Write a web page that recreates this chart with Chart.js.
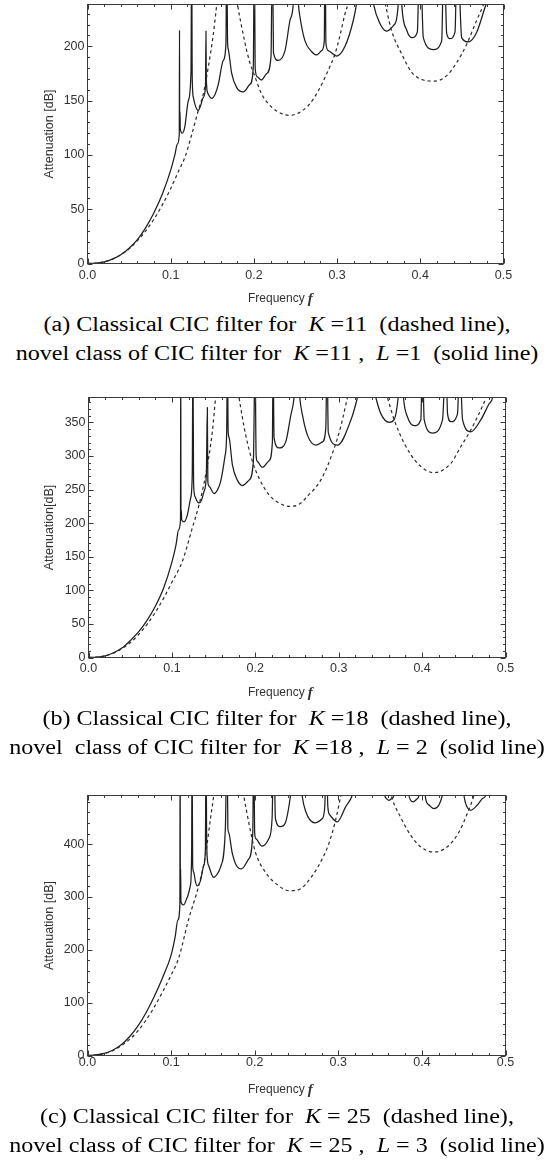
<!DOCTYPE html>
<html><head><meta charset="utf-8">
<script src="https://cdn.jsdelivr.net/npm/chart.js@4.4.1/dist/chart.umd.min.js"></script>
<style>
html,body{margin:0;padding:0;background:#fff}
body{width:547px;height:1166px;position:relative;overflow:hidden}
.box{position:absolute;left:0;width:547px}
.cap{position:absolute;left:0;width:554px;text-align:center;font-family:"Liberation Serif","Times New Roman",serif;font-size:20.5px;line-height:29.3px;color:#000;white-space:pre;transform:scaleX(1.175);transform-origin:277px 0}
.cap i{font-style:italic}
</style></head><body>
<div class="box" style="top:0;height:310px"><canvas id="cA"></canvas></div>
<div class="box" style="top:380px;height:330px"><canvas id="cB"></canvas></div>
<div class="box" style="top:775px;height:330px"><canvas id="cC"></canvas></div>
<div class="cap" style="top:310.1px">(a) Classical CIC filter for  <i>K</i> =11  (dashed line),
novel class of CIC filter for  <i>K</i> =11 ,  <i>L</i> =1  (solid line)</div>
<div class="cap" style="top:704.1px">(b) Classical CIC filter for  <i>K</i> =18  (dashed line),
novel  class of CIC filter for  <i>K</i> =18 ,  <i>L</i> = 2  (solid line)</div>
<div class="cap" style="top:1101.8px">(c) Classical CIC filter for  <i>K</i> = 25  (dashed line),
novel class of CIC filter for  <i>K</i> = 25 ,  <i>L</i> = 3  (solid line)</div>
<script>
// ---------- data (frequency, attenuation dB) ----------
const xTicks = [0, 0.1, 0.2, 0.3, 0.4, 0.5];
const xTickLabels = ['0.0', '0.1', '0.2', '0.3', '0.4', '0.5'];
const yTicksA = [0, 50, 100, 150, 200];
const yTicksB = [0, 50, 100, 150, 200, 250, 300, 350];
const yTicksC = [0, 100, 200, 300, 400];

const dashedA = [[0,0],[0.01,0.3],[0.02,1.5],[0.03,4],[0.04,8],[0.05,13.5],[0.06,21],[0.07,30],[0.08,41],[0.09,54],[0.1,69],[0.11,86],[0.1172,98],[0.125,118],[0.1332,141],[0.1392,156],[0.1452,181],[0.1512,211],[0.1553,238],[0.16,270],[0.1667,320],[0.175,270],[0.1805,238],[0.1853,218],[0.1933,190],[0.2013,172],[0.2093,156],[0.2214,144],[0.2334,138],[0.2434,136.5],[0.2534,138.5],[0.2654,145.5],[0.2774,159],[0.2894,178],[0.2975,193],[0.3035,210],[0.3095,230],[0.3135,240],[0.3333,320],[0.3576,240],[0.3656,214],[0.3776,193],[0.3897,176],[0.4036,169],[0.4177,168],[0.4317,173],[0.4437,185],[0.4558,202],[0.4678,224],[0.4757,238],[0.49,270],[0.5,300]];

const solidA = [[0,0],[0.01,0.3],[0.02,1.5],[0.03,4],[0.04,8],[0.05,14],[0.06,22],[0.07,33],[0.08,47],[0.09,64],[0.1,86],[0.105,100],[0.108,110],[0.1103,119],[0.1106,215],[0.1108,124],[0.1112,140],[0.1115,124],[0.114,120],[0.117,126],[0.1212,150],[0.1244,177],[0.1252,300],[0.1258,175],[0.1272,153],[0.1302,144],[0.1332,141],[0.1362,146],[0.1392,153],[0.1418,163],[0.1424,214],[0.1428,170],[0.1445,157],[0.1493,152],[0.1535,156],[0.1572,165],[0.1632,187],[0.1664,202],[0.1673,300],[0.1683,205],[0.1693,197],[0.1733,175],[0.1793,162],[0.1873,158],[0.1953,165],[0.1993,181],[0.2005,300],[0.2015,180],[0.204,172],[0.209,169],[0.2154,175],[0.2206,191],[0.2222,300],[0.2235,194],[0.2294,187],[0.2374,196],[0.2434,224],[0.2474,240],[0.25,300],[0.2534,240],[0.2554,227],[0.2614,205],[0.2695,195],[0.2755,192],[0.2815,196],[0.2846,205],[0.2855,300],[0.2865,203],[0.2894,196],[0.2995,191],[0.3095,200],[0.3195,224],[0.3235,240],[0.3333,300],[0.3435,240],[0.3515,221],[0.3596,214],[0.3676,219],[0.3736,240],[0.375,300],[0.3776,240],[0.3836,215],[0.3897,208],[0.3964,213],[0.3996,300],[0.4036,208],[0.4156,197],[0.4257,205],[0.4285,300],[0.4317,212],[0.4357,207],[0.4417,213],[0.4445,300],[0.4497,208],[0.4577,204],[0.4678,213],[0.4778,236],[0.4795,240],[0.49,300],[0.5,300]];

const dashedB = [[0,0],[0.01,0.5],[0.02,2.5],[0.03,6.5],[0.04,13],[0.05,22],[0.06,34],[0.07,49],[0.08,67],[0.09,88],[0.1,112],[0.1125,143],[0.1245,193],[0.1325,227],[0.1405,272],[0.1485,336],[0.1525,387],[0.1667,500],[0.1805,387],[0.1885,331],[0.1965,292],[0.2045,267],[0.2165,242],[0.2285,230],[0.2405,225],[0.2525,228],[0.2625,240],[0.2785,264],[0.2925,304],[0.3025,344],[0.3105,387],[0.3333,500],[0.3585,387],[0.3665,354],[0.3785,319],[0.3945,289],[0.4145,275],[0.4345,289],[0.4465,314],[0.4585,339],[0.4705,369],[0.4765,387],[0.5,500]];

const solidB = [[0,0],[0.01,0.5],[0.02,2.5],[0.03,7],[0.04,14],[0.05,25],[0.06,38],[0.07,55],[0.08,76],[0.09,103],[0.1,142],[0.105,168],[0.108,190],[0.1103,205],[0.1106,450],[0.1109,207],[0.1113,219],[0.1117,205],[0.1145,202],[0.1185,212],[0.1224,237],[0.1244,272],[0.1252,450],[0.126,260],[0.1276,240],[0.13,233],[0.1325,230],[0.1355,234],[0.1385,247],[0.1413,272],[0.1425,372],[0.1431,262],[0.1445,255],[0.1505,244],[0.1545,249],[0.1585,262],[0.1637,300],[0.1657,336],[0.1665,450],[0.1675,335],[0.1685,328],[0.1725,287],[0.1785,264],[0.1845,256],[0.1925,264],[0.1977,292],[0.1997,450],[0.201,300],[0.2025,292],[0.2085,283],[0.2165,293],[0.2205,321],[0.2213,450],[0.2225,327],[0.2285,312],[0.2365,321],[0.2425,360],[0.2465,387],[0.25,450],[0.2533,387],[0.2565,361],[0.2625,331],[0.2725,316],[0.2805,321],[0.2845,341],[0.286,450],[0.2875,335],[0.2985,316],[0.3145,353],[0.3225,387],[0.3333,450],[0.3445,387],[0.3505,363],[0.3605,350],[0.3665,354],[0.3713,387],[0.375,450],[0.3777,387],[0.3825,358],[0.3905,345],[0.3985,354],[0.4003,450],[0.4025,354],[0.4125,334],[0.4245,354],[0.4285,450],[0.4305,363],[0.4345,351],[0.4425,363],[0.445,450],[0.4485,354],[0.4585,336],[0.4705,354],[0.4805,378],[0.4845,387],[0.49,450],[0.5,450]];

const dashedC = [[0,0],[0.01,1],[0.02,3.5],[0.03,9],[0.04,18],[0.05,30],[0.06,46],[0.07,67],[0.08,92],[0.09,121],[0.1,152],[0.109,184],[0.121,258],[0.133,321],[0.141,378],[0.147,447],[0.151,492],[0.1667,700],[0.1869,492],[0.1929,441],[0.2008,385],[0.2128,347],[0.2288,321],[0.2408,312],[0.2528,314],[0.2688,340],[0.2807,372],[0.2887,401],[0.2967,445],[0.3027,489],[0.3333,700],[0.3645,486],[0.3745,451],[0.3865,417],[0.3984,395],[0.4144,385],[0.4304,395],[0.4444,423],[0.4543,458],[0.4623,492],[0.5,700]];

const solidC = [[0,0],[0.01,1],[0.02,4],[0.03,10],[0.04,20],[0.05,35],[0.06,55],[0.07,81],[0.08,112],[0.09,148],[0.1,190],[0.105,226],[0.108,256],[0.1105,285],[0.1108,600],[0.1111,290],[0.1114,353],[0.1118,290],[0.115,285],[0.119,298],[0.123,321],[0.1246,388],[0.125,600],[0.1258,360],[0.127,347],[0.129,330],[0.131,321],[0.135,330],[0.139,359],[0.141,390],[0.1418,600],[0.1424,435],[0.143,380],[0.145,359],[0.151,337],[0.155,343],[0.159,356],[0.1649,429],[0.1669,600],[0.1679,430],[0.1689,422],[0.1729,385],[0.178,360],[0.184,353],[0.1929,372],[0.1977,422],[0.1988,600],[0.2,420],[0.2016,410],[0.2088,396],[0.2168,410],[0.2208,448],[0.2228,600],[0.2248,448],[0.2308,433],[0.2368,441],[0.2428,492],[0.25,600],[0.2567,492],[0.2607,463],[0.2719,440],[0.2807,448],[0.2839,473],[0.2855,600],[0.2875,470],[0.29,455],[0.2987,442],[0.3086,470],[0.3166,492],[0.3333,600],[0.3554,492],[0.3575,486],[0.3605,483],[0.3635,486],[0.3665,492],[0.375,600],[0.3845,492],[0.3865,483],[0.3897,480],[0.3945,486],[0.3965,492],[0.4,600],[0.4045,486],[0.4085,474],[0.4144,467],[0.4204,474],[0.4244,492],[0.4375,600],[0.4503,492],[0.4523,477],[0.4583,464],[0.4663,474],[0.4723,486],[0.4763,492],[0.49,600],[0.5,600]];

// ---------- rendering ----------
const W = 547;
const framePlugin = {
  id: 'frame',
  afterDatasetsDraw(chart, args, o) {
    const {ctx, chartArea: a, scales: {x, y}} = chart;
    ctx.save();
    ctx.strokeStyle = '#3a3a3a';
    ctx.lineWidth = 1;
    ctx.strokeRect(a.left, a.top, a.right - a.left, a.bottom - a.top);
    ctx.beginPath();
    for (let i = 0; i * o.xMinor <= x.max + 1e-9; i++) {
      const px = Math.round(x.getPixelForValue(i * o.xMinor)) + 0.5;
      const len = (i % o.xPer === 0) ? 5 : 2.5;
      ctx.moveTo(px, a.bottom); ctx.lineTo(px, a.bottom - len);
      ctx.moveTo(px, a.top); ctx.lineTo(px, a.top + len);
    }
    for (let i = 0; i * o.yMinor <= y.max + 1e-9; i++) {
      const py = Math.round(y.getPixelForValue(i * o.yMinor)) + 0.5;
      const len = (i % o.yPer === 0) ? 5 : 2.5;
      ctx.moveTo(a.left, py); ctx.lineTo(a.left + len, py);
      ctx.moveTo(a.right, py); ctx.lineTo(a.right - len, py);
    }
    ctx.stroke();
    // x-axis title: "Frequency" + bold italic f
    ctx.fillStyle = '#333';
    ctx.textBaseline = 'alphabetic';
    ctx.textAlign = 'left';
    ctx.font = '12px "Liberation Sans", Arial, sans-serif';
    const word = 'Frequency';
    ctx.fillText(word, o.titleX, o.titleY);
    const w = ctx.measureText(word).width;
    ctx.font = 'italic bold 15px "Liberation Serif", "Times New Roman", serif';
    ctx.fillText('f', o.titleX + w + 3, o.titleY + 1);
    ctx.restore();
  }
};

function makePanel(id, p) {
  const H = p.height;
  const toXY = arr => arr.map(d => ({x: d[0], y: d[1]}));
  new Chart(document.getElementById(id), {
    type: 'line',
    data: {
      datasets: [
        {data: toXY(p.dashed), borderColor: '#2a2a2a', borderWidth: 1.2, borderDash: [3.2, 3], pointRadius: 0, cubicInterpolationMode: 'monotone', clip: 0, fill: false},
        {data: toXY(p.solid), borderColor: '#1e1e1e', borderWidth: 1.25, pointRadius: 0, cubicInterpolationMode: 'monotone', clip: 0, fill: false}
      ]
    },
    options: {
      responsive: true, maintainAspectRatio: false, animation: false, devicePixelRatio: 1, events: [],
      layout: {padding: {left: 0, top: p.top, right: W - p.right, bottom: 0}},
      plugins: {legend: {display: false}, tooltip: {enabled: false},
        frame: {xMinor: 0.02, xPer: 5, yMinor: p.yMinor, yPer: p.yPer, titleX: 248, titleY: p.titleY}},
      scales: {
        x: {
          type: 'linear', min: 0, max: 0.5,
          grid: {display: false, drawTicks: false}, border: {display: false},
          afterBuildTicks: s => { s.ticks = xTicks.map(v => ({value: v})); },
          afterFit: s => { s.height = H - p.bottom; s.paddingLeft = 0; s.paddingRight = 0; },
          ticks: {autoSkip: false, maxRotation: 0, padding: p.xPad, color: '#333',
            font: {family: '"Liberation Sans", Arial, sans-serif', size: 12.5, lineHeight: 1},
            callback: (v, i) => xTickLabels[i]}
        },
        y: {
          type: 'linear', min: 0, max: p.yMax,
          grid: {display: false, drawTicks: false}, border: {display: false},
          afterBuildTicks: s => { s.ticks = p.yTicks.map(v => ({value: v})); },
          afterFit: s => { s.width = p.left; s.paddingTop = 0; s.paddingBottom = 0; },
          ticks: {padding: 3, color: '#333',
            font: {family: '"Liberation Sans", Arial, sans-serif', size: 12.5, lineHeight: 1},
            callback: v => String(v)},
          title: {display: true, text: p.yTitle, color: '#333', padding: {top: 43, bottom: 0},
            font: {family: '"Liberation Sans", Arial, sans-serif', size: 12.5, lineHeight: 1}}
        }
      }
    },
    plugins: [framePlugin]
  });
}

makePanel('cA', {height: 310, left: 87.5, right: 503.5, top: 4.5, bottom: 263.5, yMax: 238.5,
  yTicks: yTicksA, yMinor: 10, yPer: 5, yTitle: 'Attenuation [dB]', xPad: 5.5, titleY: 302,
  solid: solidA, dashed: dashedA});
makePanel('cB', {height: 330, left: 88.5, right: 505.5, top: 17.5, bottom: 277.5, yMax: 387,
  yTicks: yTicksB, yMinor: 10, yPer: 5, yTitle: 'Attenuation[dB]', xPad: 4.5, titleY: 316,
  solid: solidB, dashed: dashedB});
makePanel('cC', {height: 330, left: 87.5, right: 505.5, top: 20.5, bottom: 280.5, yMax: 492,
  yTicks: yTicksC, yMinor: 20, yPer: 5, yTitle: 'Attenuation [dB]', xPad: 0.5, titleY: 318,
  solid: solidC, dashed: dashedC});
</script>
</body></html>
